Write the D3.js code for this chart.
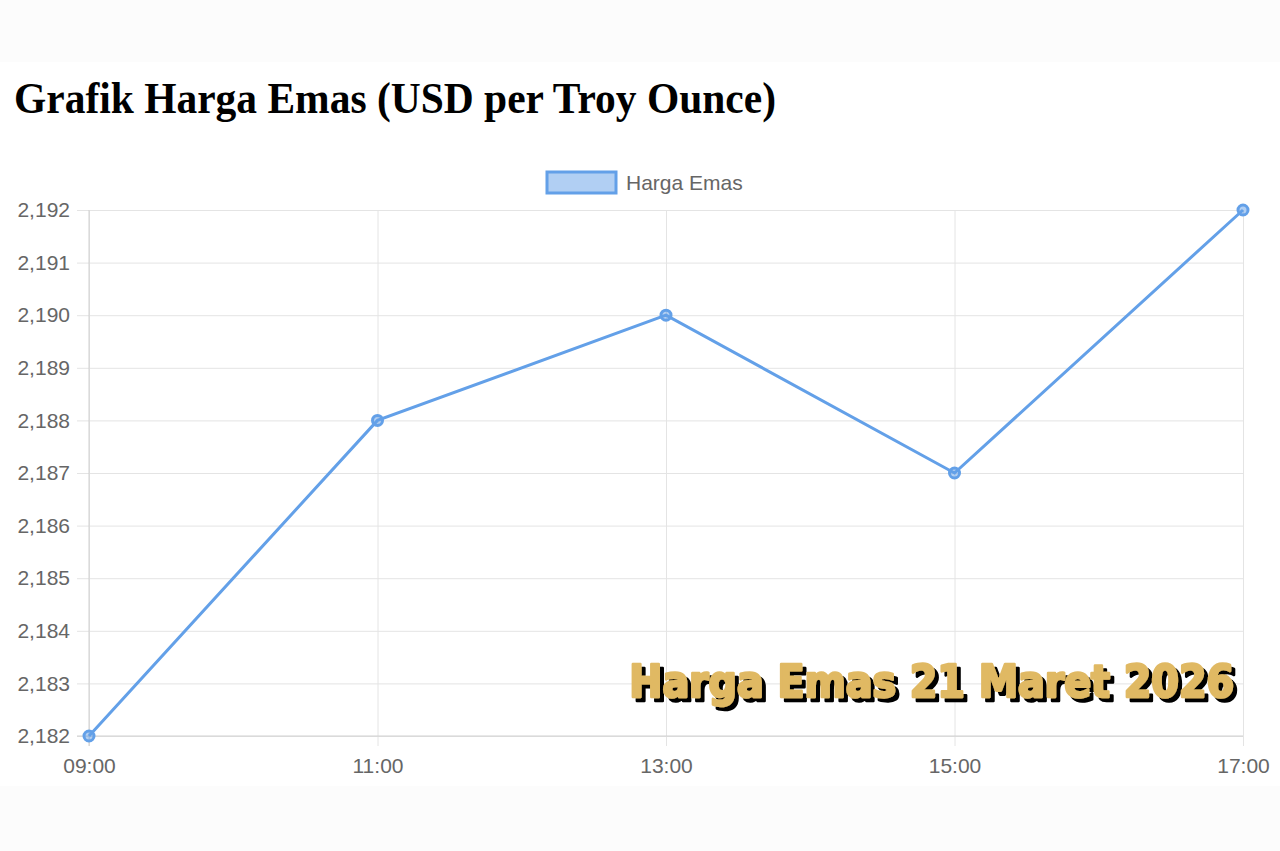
<!DOCTYPE html>
<html>
<head>
<meta charset="utf-8">
<script src="https://cdn.jsdelivr.net/npm/d3@7.9.0/dist/d3.min.js"></script>
<style>
  html, body { margin: 0; padding: 0; background: #fcfcfc; }
  svg { display: block; }
</style>
</head>
<body>
<svg id="chart" width="1280" height="851"></svg>
<script>
const hours = ['09:00', '11:00', '13:00', '15:00', '17:00'];
const prices = [2182, 2188, 2190, 2187, 2192];
const yTicks = [2182, 2183, 2184, 2185, 2186, 2187, 2188, 2189, 2190, 2191, 2192];

const svg = d3.select('#chart');
const margin = { left: 89, right: 1243, top: 210, bottom: 736 };

// drop shadow for the caption
const defs = svg.append('defs');
const shadow = defs.append('filter').attr('id', 'hardShadow')
  .attr('filterUnits', 'userSpaceOnUse')
  .attr('x', 600).attr('y', 630).attr('width', 680).attr('height', 110);
shadow.append('feOffset').attr('in', 'SourceAlpha').attr('dx', 4).attr('dy', 4).attr('result', 'off');
shadow.append('feFlood').attr('flood-color', '#000');
shadow.append('feComposite').attr('in2', 'off').attr('operator', 'in').attr('result', 'sh');
const merge = shadow.append('feMerge');
merge.append('feMergeNode').attr('in', 'sh');
merge.append('feMergeNode').attr('in', 'SourceGraphic');

// white page panel
svg.append('rect')
  .attr('x', 0).attr('y', 62)
  .attr('width', 1280).attr('height', 724)
  .attr('fill', '#ffffff');

svg.append('text')
  .attr('x', 14).attr('y', 113)
  .attr('font-family', '"Liberation Serif", "Times New Roman", serif')
  .attr('font-weight', 'bold')
  .attr('font-size', 44)
  .attr('textLength', 762).attr('lengthAdjust', 'spacingAndGlyphs')
  .attr('fill', '#000')
  .text('Grafik Harga Emas (USD per Troy Ounce)');

const x = d3.scalePoint().domain(hours).range([margin.left, margin.right]);
const y = d3.scaleLinear().domain([2182, 2192]).range([margin.bottom, margin.top]);

const font = '"Liberation Sans", Arial, sans-serif';

// y grid + labels
const yAxis = svg.append('g')
  .attr('transform', `translate(${margin.left},0)`)
  .call(d3.axisLeft(y)
    .tickValues(yTicks)
    .tickSize(-(margin.right - margin.left))
    .tickPadding(19)
    .tickFormat(d3.format(',')));
yAxis.select('.domain').remove();
yAxis.selectAll('.tick line')
  .attr('x1', -12)
  .attr('stroke', '#e4e4e4').attr('stroke-width', 1);
yAxis.selectAll('.tick text')
  .attr('font-family', font).attr('font-size', 21).attr('fill', '#666');

// x grid + labels
const xAxis = svg.append('g')
  .attr('transform', `translate(0,${margin.bottom})`)
  .call(d3.axisBottom(x)
    .tickSize(-(margin.bottom - margin.top))
    .tickPadding(22));
xAxis.select('.domain').remove();
xAxis.selectAll('.tick line')
  .attr('y1', 10)
  .attr('stroke', '#e4e4e4').attr('stroke-width', 1);
xAxis.selectAll('.tick text')
  .attr('font-family', font).attr('font-size', 21).attr('fill', '#666');

// axis borders
svg.append('line')
  .attr('x1', margin.left).attr('x2', margin.left)
  .attr('y1', margin.top).attr('y2', margin.bottom + 10)
  .attr('stroke', '#d0d0d0');
svg.append('line')
  .attr('x1', margin.left - 12).attr('x2', margin.right)
  .attr('y1', margin.bottom).attr('y2', margin.bottom)
  .attr('stroke', '#d0d0d0');

// legend
svg.append('rect')
  .attr('x', 547).attr('y', 172)
  .attr('width', 69).attr('height', 21)
  .attr('fill', 'rgba(99,160,232,0.5)')
  .attr('stroke', '#63a0e8').attr('stroke-width', 3);
svg.append('text')
  .attr('x', 626).attr('y', 190)
  .attr('font-family', font).attr('font-size', 21).attr('fill', '#666')
  .text('Harga Emas');

// line
const line = d3.line()
  .x((d, i) => x(hours[i]))
  .y(d => y(d));

svg.append('path')
  .datum(prices)
  .attr('d', line)
  .attr('fill', 'none')
  .attr('stroke', '#63a0e8')
  .attr('stroke-width', 3);

svg.selectAll('circle.pt')
  .data(prices)
  .join('circle')
    .attr('class', 'pt')
    .attr('cx', (d, i) => x(hours[i]))
    .attr('cy', d => y(d))
    .attr('r', 5)
    .attr('fill', 'rgba(99,160,232,0.5)')
    .attr('stroke', '#63a0e8')
    .attr('stroke-width', 3);

// watermark caption, right aligned inside the plot
svg.append('text')
  .attr('x', 1234).attr('y', 697)
  .attr('text-anchor', 'end')
  .attr('font-family', '"DejaVu Sans Condensed", "DejaVu Sans", sans-serif')
  .attr('font-weight', 'bold')
  .attr('font-size', 44)
  .attr('fill', '#e0b964')
  .attr('stroke', '#e0b964').attr('stroke-width', 2.5)
  .attr('stroke-linejoin', 'round')
  .attr('filter', 'url(#hardShadow)')
  .text('Harga Emas 21 Maret 2026');
</script>
</body>
</html>
